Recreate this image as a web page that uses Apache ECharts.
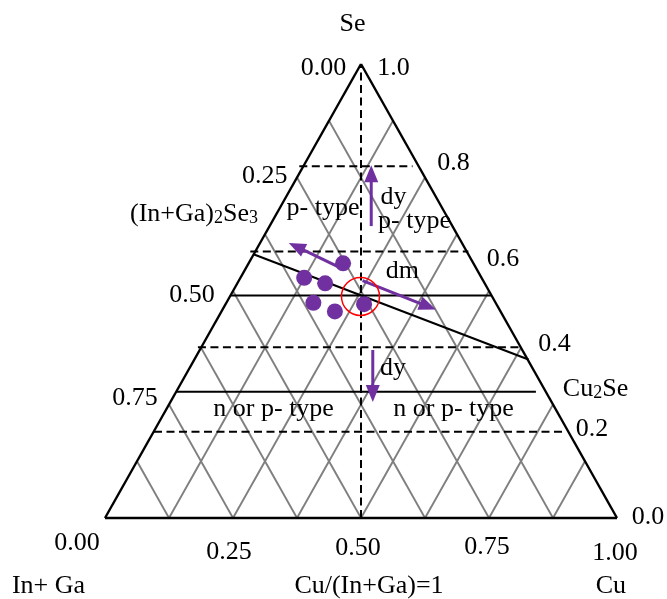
<!DOCTYPE html>
<html><head><meta charset="utf-8">
<script src="https://cdn.jsdelivr.net/npm/echarts@6/dist/echarts.min.js"></script>
<style>html,body{margin:0;padding:0;background:#fff}#c{width:667px;height:599px}</style>
</head><body><div id="c"></div>
<script>
// ---------- data (x = position along base, y = height fraction, apex = (0.5, 1)) ----------
const outline = [[0, 0], [1, 0], [0.5, 1], [0, 0]];
const gridFractions = [0.125, 0.25, 0.375, 0.5, 0.625, 0.75, 0.875];
// [height, xStart, xEnd]
const dashedLevels = [[0.775, 0.3795, 0.6007], [0.587, 0.2838, 0.7096], [0.376, 0.1815, 0.815], [0.19, 0.0957, 0.8944]];
const solidLevels = [[0.49, 0.2462, 0.754], [0.278, 0.1386, 0.8416]];
const centerLine = [[0.5, 0], [0.5, 1]];
const tieLine = [[0.29, 0.581], [0.827, 0.349]];
const samplePoints = [[0.465, 0.561], [0.389, 0.529], [0.43, 0.517], [0.407, 0.474], [0.449, 0.455], [0.506, 0.471]];
const markedPoint = [[0.499, 0.488]];
// [xFrom, yFrom, xTo, yTo]
const arrows = [[0.52, 0.643, 0.52, 0.777], [0.523, 0.37, 0.523, 0.2555], [0.465, 0.548, 0.359, 0.606], [0.503, 0.523, 0.646, 0.459]];
const leftTicks = ['0.00', '0.25', '0.50', '0.75'];
const rightTicks = ['1.0', '0.8', '0.6', '0.4', '0.2', '0.0'];
const bottomTicks = ['0.00', '0.25', '0.50', '0.75', '1.00'];
const axisTitles = ['Se', '(In+Ga){s|2}Se{s|3}', 'Cu{s|2}Se', 'In+ Ga', 'Cu/(In+Ga)=1', 'Cu'];
const regionLabels = ['p- type', 'dy', 'p- type', 'dm', 'dy', 'n or p- type', 'n or p- type'];

// ---------- label placement ----------
const leftTickPos = [[0.4268, 0.990], [0.3119, 0.752], [0.170, 0.491], [0.0586, 0.263]];
const rightTickPos = [[0.5635, 0.990], [0.6807, 0.782], [0.7773, 0.570], [0.878, 0.3833], [0.9512, 0.195], [1.0605, 0.001]];
const bottomTickPos = [[-0.0547, -0.0562], [0.2422, -0.0749], [0.4941, -0.066], [0.746, -0.0639], [0.996, -0.077]];
const axisTitlePos = [[0.4834, 1.087], [0.1738, 0.6696], [0.958, 0.284], [-0.1104, -0.151], [0.5156, -0.1498], [0.988, -0.151]];
const regionPos = [[0.4258, 0.6828], [0.5635, 0.706], [0.6045, 0.654], [0.581, 0.543], [0.5625, 0.330], [0.3293, 0.240], [0.6807, 0.240]];

const FONT = '"Liberation Serif", "Times New Roman", serif';
const FS = 26;
const PURPLE = '#7030A0';

const textItems = [];
leftTicks.forEach((t, i) => textItems.push({ t, p: leftTickPos[i] }));
rightTicks.forEach((t, i) => textItems.push({ t, p: rightTickPos[i] }));
bottomTicks.forEach((t, i) => textItems.push({ t, p: bottomTickPos[i] }));
axisTitles.forEach((t, i) => textItems.push({ t, p: axisTitlePos[i] }));
regionLabels.forEach((t, i) => textItems.push({ t, p: regionPos[i] }));

const latticeSegments = [];
gridFractions.forEach(f => {
  latticeSegments.push([f, 0, (1 + f) / 2, 1 - f]);
  latticeSegments.push([f, 0, f / 2, f]);
});
const outlineSegments = [];
for (let i = 0; i < outline.length - 1; i++) outlineSegments.push([outline[i][0], outline[i][1], outline[i + 1][0], outline[i + 1][1]]);
const dashedSegments = dashedLevels.map(d => [d[1], d[0], d[2], d[0]]);
dashedSegments.push([centerLine[0][0], centerLine[0][1], centerLine[1][0], centerLine[1][1]]);
const solidSegments = solidLevels.map(d => [d[1], d[0], d[2], d[0]]);
solidSegments.push([tieLine[0][0], tieLine[0][1], tieLine[1][0], tieLine[1][1]]);

function segSeries(data, style, z) {
  return {
    type: 'custom', coordinateSystem: 'cartesian2d', silent: true, z, clip: false,
    data,
    renderItem: (params, api) => {
      const a = api.coord([api.value(0), api.value(1)]);
      const b = api.coord([api.value(2), api.value(3)]);
      return { type: 'line', shape: { x1: a[0], y1: a[1], x2: b[0], y2: b[1] }, style: Object.assign({ fill: null }, style) };
    }
  };
}

const option = {
  animation: false,
  backgroundColor: '#fff',
  grid: { left: 105, right: 50, top: 64, bottom: 81 },
  xAxis: { type: 'value', min: 0, max: 1, show: false },
  yAxis: { type: 'value', min: 0, max: 1, show: false },
  series: [
    segSeries(latticeSegments, { stroke: '#7f7f7f', lineWidth: 1.9 }, 1),
    segSeries(dashedSegments, { stroke: '#000', lineWidth: 2, lineDash: [8, 4.5] }, 2),
    segSeries(solidSegments, { stroke: '#000', lineWidth: 2 }, 2),
    segSeries(outlineSegments, { stroke: '#000', lineWidth: 2.4, lineJoin: 'miter' }, 3),
    {
      type: 'custom', coordinateSystem: 'cartesian2d', silent: true, z: 5, clip: false,
      data: arrows,
      renderItem: (params, api) => {
        const a = api.coord([api.value(0), api.value(1)]);
        const b = api.coord([api.value(2), api.value(3)]);
        const dx = b[0] - a[0], dy = b[1] - a[1];
        const L = Math.sqrt(dx * dx + dy * dy);
        const ux = dx / L, uy = dy / L;
        const hl = 17, hw = 7;
        const bx = b[0] - ux * hl, by = b[1] - uy * hl;
        return {
          type: 'group', children: [
            { type: 'line', shape: { x1: a[0], y1: a[1], x2: bx + ux * 2, y2: by + uy * 2 }, style: { stroke: PURPLE, lineWidth: 3 } },
            { type: 'polygon', shape: { points: [[b[0], b[1]], [bx - uy * hw, by + ux * hw], [bx + uy * hw, by - ux * hw]] }, style: { fill: PURPLE } }
          ]
        };
      }
    },
    {
      type: 'scatter', silent: true, z: 6, symbol: 'circle', symbolSize: 16,
      itemStyle: { color: PURPLE, opacity: 1 },
      data: samplePoints
    },
    {
      type: 'scatter', silent: true, z: 7, symbol: 'circle', symbolSize: 38,
      itemStyle: { color: 'rgba(0,0,0,0)', borderColor: '#ff0000', borderWidth: 1.5, opacity: 1 },
      data: markedPoint
    },
    {
      type: 'custom', coordinateSystem: 'cartesian2d', silent: true, z: 8, clip: false,
      data: textItems.map(o => o.p),
      renderItem: (params, api) => {
        const item = textItems[params.dataIndex];
        const p = api.coord([api.value(0), api.value(1)]);
        return {
          type: 'text', x: p[0], y: p[1],
          style: {
            text: item.t, fill: '#000', fontSize: FS, fontFamily: FONT,
            align: 'center', verticalAlign: 'middle',
            rich: { s: { fontSize: 18, fontFamily: FONT, fill: '#000', verticalAlign: 'bottom' } }
          }
        };
      }
    }
  ]
};
const chart = echarts.init(document.getElementById('c'));
chart.setOption(option);
</script>
</body></html>
